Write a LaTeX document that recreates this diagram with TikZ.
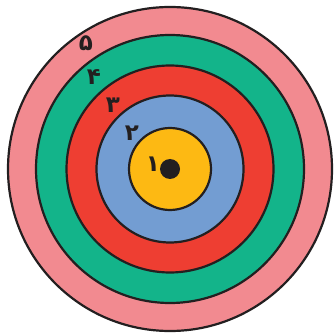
\documentclass[tikz,border=0pt]{standalone}
\usepackage{fontspec}
\newfontfamily\persianfont[Script=Arabic]{DejaVu Sans}
\definecolor{ringpink}{HTML}{F28A90}
\definecolor{ringgreen}{HTML}{13B48A}
\definecolor{ringred}{HTML}{EE3E32}
\definecolor{ringblue}{HTML}{739DD2}
\definecolor{ringyellow}{HTML}{FDB913}
\definecolor{dotblack}{HTML}{231F20}
\tikzset{
	ring/.style={draw=dotblack,line width=2.2pt},
	score/.style={text=dotblack,inner sep=0pt,font=\persianfont\bfseries\fontsize{23}{23}\selectfont}
}
\begin{document}
\begin{tikzpicture}[x=1pt,y=-1pt]
		
		\useasboundingbox (0,0) rectangle (333,336);
		
		\filldraw[ring,fill=ringpink] (170,169) circle (162);
		\filldraw[ring,fill=ringgreen] (170,169) circle (134);
		\filldraw[ring,fill=ringred] (170,169) circle (103.5);
		\filldraw[ring,fill=ringblue] (170,169) circle (73.5);
		\filldraw[ring,fill=ringyellow] (170,169) circle (41);
		\fill[dotblack] (170,169) circle (10);
		
		\node[score] (s1) at (153,164) {۱};
		\node[score] (s2) at (132,133) {۲};
		\node[score] (s3) at (113,105) {۳};
		\node[score] (s4) at (94,77) {۴};
		\node[score] (s5) at (86,43) {۵};
		
	\end{tikzpicture}
\end{document}
